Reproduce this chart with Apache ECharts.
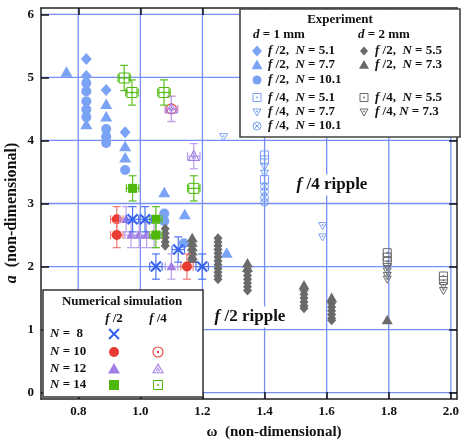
<!DOCTYPE html>
<html><head><meta charset="utf-8">
<script src="https://cdn.jsdelivr.net/npm/echarts@6/dist/echarts.min.js"></script>
<style>html,body{margin:0;padding:0;background:#fff}#c{width:462px;height:441px}</style>
</head><body><div id="c"></div>
<script>
// ---- tick values ----
const xTicks = [0.8, 1.0, 1.2, 1.4, 1.6, 1.8, 2.0];
const yTicks = [0, 1, 2, 3, 4, 5, 6];

// ---- Experiment, d = 1 mm ----
const e1_f2_N51 = [[0.826,5.29],[0.826,5.02],[0.89,4.80],[0.951,4.13]];
const e1_f2_N77 = [[0.762,5.08],[0.826,4.25],[0.89,4.57],[0.89,4.37],[0.951,3.90],[0.951,3.72],[1.077,3.17],[1.143,2.82],[1.278,2.21]];
const e1_f2_N101 = [[0.826,4.91],[0.826,4.78],[0.826,4.62],[0.826,4.49],[0.826,4.37],[0.89,4.18],[0.89,4.06],[0.89,3.96],[0.951,3.53],[1.077,2.84],[1.077,2.72],[1.14,2.37]];
const e1_f4_N51 = [[1.4,3.77],[1.4,3.69],[1.4,3.38]];
const e1_f4_N77 = [[1.268,4.06],[1.4,3.59],[1.4,3.48],[1.587,2.65],[1.587,2.47]];
const e1_f4_N101 = [[1.4,3.27],[1.4,3.19],[1.4,3.09],[1.4,3.02]];

// ---- Experiment, d = 2 mm ----
const e2_f2_N55 = [[1.08,2.60],[1.08,2.53],[1.08,2.46],[1.08,2.39],[1.08,2.33],
  [1.25,2.45],[1.25,2.39],[1.25,2.33],[1.25,2.27],[1.25,2.21],[1.25,2.15],[1.25,2.09],[1.25,2.03],[1.25,1.97],[1.25,1.91],[1.25,1.85],[1.25,1.80],
  [1.345,1.92],[1.345,1.86],[1.345,1.80],[1.345,1.74],[1.345,1.68],[1.345,1.62],
  [1.527,1.62],[1.527,1.56],[1.527,1.50],[1.527,1.44],[1.527,1.38],[1.527,1.34],
  [1.616,1.42],[1.616,1.36],[1.616,1.30],[1.616,1.24],[1.616,1.18],[1.616,1.15]];
const e2_f2_N73 = [[1.167,2.45],[1.167,2.38],[1.167,2.31],[1.167,2.24],[1.167,2.17],[1.167,2.12],
  [1.345,2.05],[1.345,1.98],[1.527,1.70],[1.616,1.50],[1.795,1.15]];
const e2_f4_N55 = [[1.795,2.22],[1.795,2.15],[1.795,2.08],[1.976,1.85],[1.976,1.78]];
const e2_f4_N73 = [[1.795,2.00],[1.795,1.93],[1.795,1.86],[1.795,1.80],[1.976,1.70],[1.976,1.62]];

// ---- Numerical simulation ----
const n8_f2 = [[0.975,2.75],[1.015,2.75],[1.05,2.0],[1.122,2.27],[1.199,2.0]];
const n10_f2 = [[0.924,2.75],[0.924,2.5],[1.15,2.0]];
const n10_f4 = [[1.10,4.5]];
const n12_f2 = [[0.954,2.75],[0.97,2.5],[0.996,2.5],[1.02,2.5],[1.044,2.5],[1.10,2.0]];
const n12_f4 = [[1.10,4.5],[1.172,3.75]];
const n14_f2 = [[0.975,3.24],[1.05,2.75],[1.05,2.5]];
const n14_f4 = [[0.948,4.99],[0.973,4.76],[1.076,4.76],[1.172,3.24]];
const errX = 0.02, errY = 0.2;

// ---- colours ----
const C1 = '#7aa2f5', C2 = '#6a6a6a';
const CX = '#3461f0', CR = '#ea3b32', CP = '#a27fe6', CG = '#4db80a';
const CRe = '#f07a72', CPe = '#b9a0ee', CGe = '#5cc020', CXe = '#4a72f2';
const GRID = '#768ef6';
const FONT = '"Liberation Serif", "Times New Roman", serif';

function ln(x1,y1,x2,y2,color,w){return {type:'line',shape:{x1,y1,x2,y2},style:{stroke:color,lineWidth:w||1,fill:null}};}
function shape(kind, cx, cy, s, color){
  const h = s/2, out = [];
  const st = (lw)=>({fill:'none', stroke:color, lineWidth:lw||1});
  switch(kind){
    case 'diamond': out.push({type:'polygon',shape:{points:[[cx,cy-h],[cx+h*0.9,cy],[cx,cy+h],[cx-h*0.9,cy]]},style:{fill:color,stroke:null}}); break;
    case 'tri': out.push({type:'polygon',shape:{points:[[cx,cy-h],[cx+h,cy+h*0.75],[cx-h,cy+h*0.75]]},style:{fill:color,stroke:null}}); break;
    case 'circle': out.push({type:'circle',shape:{cx,cy,r:h},style:{fill:color,stroke:null}}); break;
    case 'square': out.push({type:'rect',shape:{x:cx-h,y:cy-h,width:s,height:s},style:{fill:color,stroke:null}}); break;
    case 'osquare': out.push({type:'rect',shape:{x:cx-h,y:cy-h,width:s,height:s},style:st(1)});
      out.push({type:'circle',shape:{cx,cy,r:0.9},style:{fill:color,stroke:null}}); break;
    case 'otridown': out.push({type:'polygon',shape:{points:[[cx-h,cy-h*0.75],[cx+h,cy-h*0.75],[cx,cy+h]]},style:st(1)});
      out.push({type:'circle',shape:{cx,cy:cy-h*0.15,r:0.9},style:{fill:color,stroke:null}}); break;
    case 'otri': out.push({type:'polygon',shape:{points:[[cx,cy-h],[cx+h,cy+h*0.75],[cx-h,cy+h*0.75]]},style:st(1.1)});
      out.push({type:'polygon',shape:{points:[[cx,cy-h*0.3],[cx+h*0.35,cy+h*0.35],[cx-h*0.35,cy+h*0.35]]},style:st(0.9)}); break;
    case 'ocircle': out.push({type:'circle',shape:{cx,cy,r:h},style:st(1.1)});
      out.push({type:'circle',shape:{cx,cy,r:1.2},style:{fill:color,stroke:null}}); break;
    case 'ocx': { out.push({type:'circle',shape:{cx,cy,r:h},style:st(1)});
      const k=h*0.7; out.push(ln(cx-k,cy-k,cx+k,cy+k,color,1)); out.push(ln(cx-k,cy+k,cx+k,cy-k,color,1)); break; }
    case 'x': out.push(ln(cx-h,cy-h,cx+h,cy+h,color,2)); out.push(ln(cx-h,cy+h,cx+h,cy-h,color,2)); break;
  }
  return out;
}
function errbars(api,x,y,color){
  const l=api.coord([x-errX,y]), r=api.coord([x+errX,y]), t=api.coord([x,y+errY]), b=api.coord([x,y-errY]);
  const c=4, w=1.2;
  return [ln(l[0],l[1],r[0],r[1],color,w),ln(l[0],l[1]-c,l[0],l[1]+c,color,w),ln(r[0],r[1]-c,r[0],r[1]+c,color,w),
          ln(t[0],t[1],b[0],b[1],color,w),ln(t[0]-c,t[1],t[0]+c,t[1],color,w),ln(b[0]-c,b[1],b[0]+c,b[1],color,w)];
}
function mk(name,data,kind,color,size,ecolor,z){
  return {type:'custom',name,coordinateSystem:'cartesian2d',data,z,encode:{x:0,y:1},clip:false,
    renderItem(params,api){
      const x=api.value(0), y=api.value(1), p=api.coord([x,y]);
      let ch=[];
      if(ecolor) ch=ch.concat(errbars(api,x,y,ecolor));
      ch=ch.concat(shape(kind,p[0],p[1],size,color));
      return {type:'group',children:ch};
    }};
}
function gridLines(){
  return [
    {type:'custom',coordinateSystem:'cartesian2d',z:1,data:xTicks.map(v=>[v,0]),encode:{x:0,y:1},
     renderItem(p,api){const a=api.coord([api.value(0),-0.1]), b=api.coord([api.value(0),6.1]);
       return ln(a[0],a[1],b[0],b[1],GRID,1.3);}},
    {type:'custom',coordinateSystem:'cartesian2d',z:1,data:yTicks.map(v=>[1,v]),encode:{x:0,y:1},
     renderItem(p,api){const a=api.coord([0.68,api.value(1)]), b=api.coord([2.02,api.value(1)]);
       return ln(a[0],a[1],b[0],b[1],GRID,1.3);}}
  ];
}

const series = gridLines().concat([
  mk('e1 f2 10.1', e1_f2_N101, 'circle', C1, 10, null, 3),
  mk('e1 f2 7.7', e1_f2_N77, 'tri', C1, 12, null, 3),
  mk('e1 f2 5.1', e1_f2_N51, 'diamond', C1, 12, null, 3),
  mk('e2 f2 5.5', e2_f2_N55, 'diamond', C2, 10, null, 4),
  mk('e2 f2 7.3', e2_f2_N73, 'tri', C2, 11, null, 4),
  mk('e2 f4 5.5', e2_f4_N55, 'osquare', C2, 8, null, 4),
  mk('e2 f4 7.3', e2_f4_N73, 'otridown', C2, 8, null, 4),
  mk('e1 f4 5.1', e1_f4_N51, 'osquare', C1, 8, null, 3),
  mk('e1 f4 7.7', e1_f4_N77, 'otridown', C1, 8, null, 3),
  mk('e1 f4 10.1', e1_f4_N101, 'ocx', C1, 8, null, 3),
  mk('n10 f2', n10_f2, 'circle', CR, 10, CRe, 5),
  mk('n10 f4', n10_f4, 'ocircle', CR, 10, CRe, 5),
  mk('n12 f2', n12_f2, 'tri', CP, 10, CPe, 5),
  mk('n12 f4', n12_f4, 'otri', CP, 11, CPe, 5),
  mk('n14 f2', n14_f2, 'square', CG, 9, CGe, 5),
  mk('n14 f4', n14_f4, 'osquare', CG, 10, CGe, 5),
  mk('n8 f2', n8_f2, 'x', CX, 10, CXe, 6)
]);

// ---- legends (graphic) ----
const ZL = 100;
function setZ(arr){arr.forEach(e=>{e.z=ZL; if(e.children) setZ(e.children);}); return arr;}
const rich = (size)=>({
  i:{fontFamily:FONT,fontWeight:'bold',fontStyle:'italic',fontSize:size,fill:'#111'},
  b:{fontFamily:FONT,fontWeight:'bold',fontSize:size,fill:'#111'}
});
function txt(x,y,text,size,align,extra){
  return Object.assign({type:'text',x,y,style:{text,rich:rich(size),fontFamily:FONT,fontWeight:'bold',fontSize:size,fill:'#111',align:align||'left',verticalAlign:'middle'}},extra||{});
}
const g = [];
// Experiment legend
g.push({type:'rect',shape:{x:240,y:9,width:220,height:128},style:{fill:'#fff',stroke:'#444',lineWidth:1.6}});
g.push(txt(340,20,'{b|Experiment}',13,'center'));
g.push(txt(253,35,'{i|d}{b| = 1 mm}',13));
g.push(txt(358,35,'{i|d}{b| = 2 mm}',13));
const expRows = [
  [51,'diamond',C1,11,'{i|f}{b| /2,  }{i|N}{b| = 5.1}','diamond',C2,9,'{i|f}{b| /2,  }{i|N}{b| = 5.5}'],
  [65,'tri',C1,11,'{i|f}{b| /2,  }{i|N}{b| = 7.7}','tri',C2,10,'{i|f}{b| /2,  }{i|N}{b| = 7.3}'],
  [80,'circle',C1,9,'{i|f}{b| /2,  }{i|N}{b| = 10.1}',null],
  [97.5,'osquare',C1,8,'{i|f}{b| /4,  }{i|N}{b| = 5.1}','osquare',C2,8,'{i|f}{b| /4,  }{i|N}{b| = 5.5}'],
  [112,'otridown',C1,8,'{i|f}{b| /4,  }{i|N}{b| = 7.7}','otridown',C2,8,'{i|f}{b| /4, }{i|N}{b| = 7.3}'],
  [126,'ocx',C1,8,'{i|f}{b| /4,  }{i|N}{b| = 10.1}',null]
];
expRows.forEach(r=>{
  g.push(...shape(r[1],257,r[0],r[3],r[2]));
  g.push(txt(268,r[0],r[4],13));
  if(r[5]){ g.push(...shape(r[5],364,r[0],r[7],r[6])); g.push(txt(375,r[0],r[8],13)); }
});
// Numerical legend
g.push({type:'rect',shape:{x:43,y:290,width:160,height:107},style:{fill:'#fff',stroke:'#333',lineWidth:1.5}});
g.push(txt(122,302,'{b|Numerical simulation}',13,'center'));
g.push(txt(114,319,'{i|f}{b| /2}',13,'center'));
g.push(txt(158,319,'{i|f}{b| /4}',13,'center'));
const numRows = [
  [334,'{i|N}{b| =  8}','x',CX,10,null],
  [352,'{i|N}{b| = 10}','circle',CR,10,'ocircle'],
  [369,'{i|N}{b| = 12}','tri',CP,12,'otri'],
  [385,'{i|N}{b| = 14}','square',CG,10,'osquare']
];
numRows.forEach(r=>{
  g.push(txt(50,r[0],r[1],13));
  g.push(...shape(r[2],114,r[0],r[4],r[3]));
  if(r[5]) g.push(...shape(r[5],158,r[0],r[5]==='osquare'?9:10,r[3]));
});
// region labels
g.push(txt(332,185,'',17,'center',{style:{text:'{i|f}{b| /4 ripple}',rich:rich(17),align:'center',verticalAlign:'middle',backgroundColor:'#fff',padding:[2,3]}}));
g.push(txt(250,317,'',17,'center',{style:{text:'{i|f}{b| /2 ripple}',rich:rich(17),align:'center',verticalAlign:'middle',backgroundColor:'#fff',padding:[2,3]}}));
// axis titles
g.push(txt(274,432,'{b|ω  (non-dimensional)}',15,'center'));
g.push(txt(12,213,'{i|a}{b|  (non-dimensional)}',16,'center',{rotation:Math.PI/2}));
setZ(g);

const axisCommon = {
  type:'value', z:10,
  axisLine:{show:true,onZero:false,lineStyle:{color:'#222',width:1.5}},
  splitLine:{show:false}
};
const option = {
  animation:false,
  backgroundColor:'#fff',
  grid:{left:41,right:2,top:8,bottom:42},
  xAxis:[
    Object.assign({},axisCommon,{min:0.68,max:2.02,position:'bottom',
      axisTick:{show:true,inside:true,length:7,customValues:xTicks,lineStyle:{color:'#111',width:1.5}},
      axisLabel:{show:true,customValues:xTicks,formatter:v=>Number(v).toFixed(1),color:'#111',fontFamily:FONT,fontWeight:'bold',fontSize:13,margin:6}}),
    Object.assign({},axisCommon,{min:0.68,max:2.02,position:'top',
      axisTick:{show:true,inside:true,length:7,customValues:xTicks,lineStyle:{color:'#111',width:1.5}},
      axisLabel:{show:false}})
  ],
  yAxis:[
    Object.assign({},axisCommon,{min:-0.1,max:6.1,position:'left',
      axisTick:{show:true,inside:true,length:8,customValues:yTicks,lineStyle:{color:'#111',width:1.5}},
      axisLabel:{show:true,customValues:yTicks,formatter:v=>String(Math.round(v)),color:'#111',fontFamily:FONT,fontWeight:'bold',fontSize:13,margin:7}}),
    Object.assign({},axisCommon,{min:-0.1,max:6.1,position:'right',
      axisTick:{show:true,inside:true,length:8,customValues:yTicks,lineStyle:{color:'#111',width:1.5}},
      axisLabel:{show:false}})
  ],
  series,
  graphic:g
};
const chart = echarts.init(document.getElementById('c'),null,{renderer:'canvas'});
chart.setOption(option);
</script></body></html>
